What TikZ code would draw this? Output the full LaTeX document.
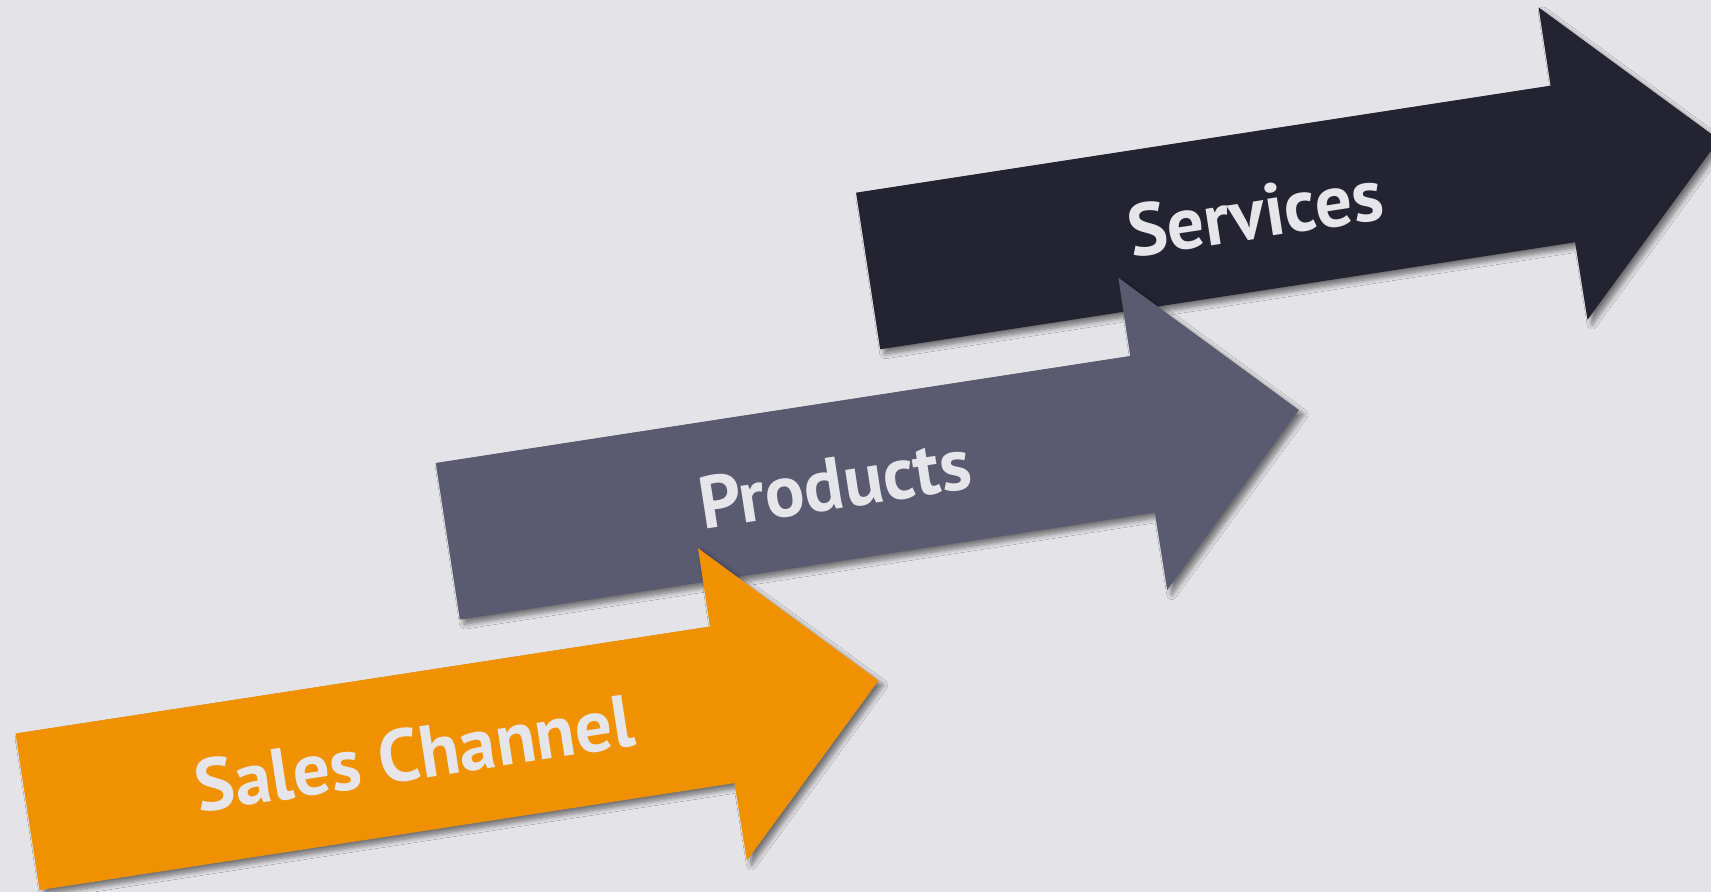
\documentclass[tikz,border=0pt]{standalone}
\usepackage{fontspec}
\setmainfont{PT Sans}
\usetikzlibrary{shadows.blur}
\definecolor{bgc}{HTML}{E4E4E8}
\definecolor{orangec}{HTML}{F09200}
\definecolor{prodc}{HTML}{5A5A70}
\definecolor{servc}{HTML}{232332}
\definecolor{txtc}{HTML}{E6E6EA}
\tikzset{
  arrowshape/.style={blur shadow={shadow xshift=1.3pt, shadow yshift=-1.3pt, shadow blur radius=1.4pt, shadow blur steps=8, shadow opacity=50}},
  arrowlabel/.style={text=txtc, font=\fontsize{21}{24}\selectfont\bfseries, rotate=8.78, anchor=center, inner sep=0pt}
}
\newcommand{\bigarrow}[4]{%
  \begin{scope}[shift={(#1)}]
    \path[fill=#2, arrowshape] (0,0) -- (694.5,-107) -- (682.5,-185.3) -- (863,-53) -- (731.4,127) -- (719,49.6) -- (24.1,156.6) -- cycle;
    \node[arrowlabel] (#4) at (399,20) {#3};
  \end{scope}}
\begin{document}
\begin{tikzpicture}[x=0.01cm, y=-0.01cm]
  \fill[bgc] (0,0) rectangle (1711,892);
  \useasboundingbox (0,0) rectangle (1711,892);
  \clip (0,0) rectangle (1711,892);
  \bigarrow{856.1,192.7}{servc}{Services}{services}
  \bigarrow{435.8,463}{prodc}{Products}{products}
  \bigarrow{15.5,733.5}{orangec}{Sales Channel}{sales}
\end{tikzpicture}
\end{document}
